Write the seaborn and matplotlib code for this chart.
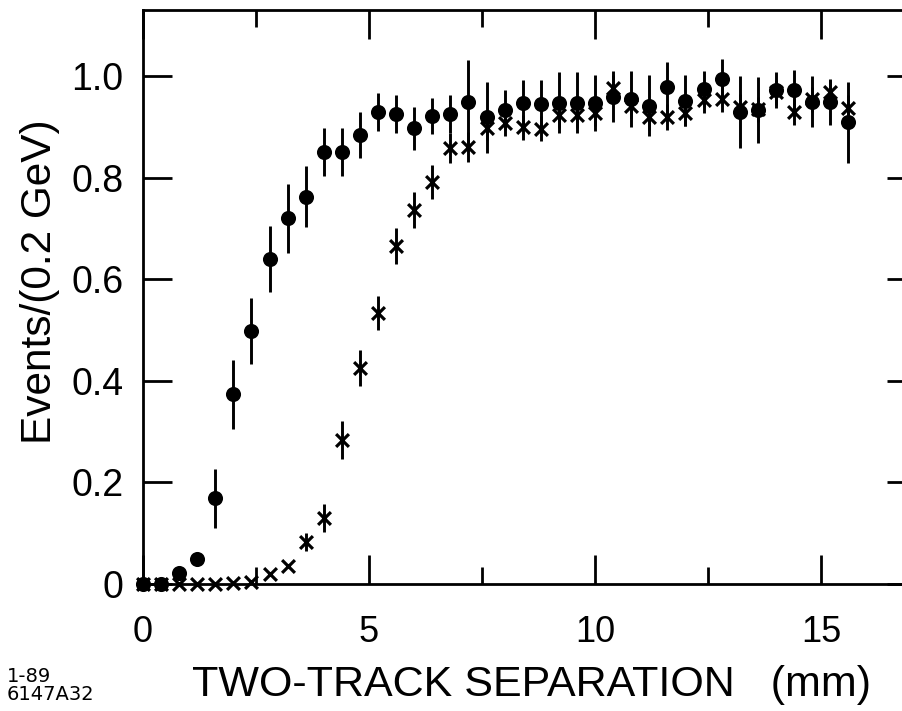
import matplotlib
matplotlib.use("Agg")
import matplotlib.pyplot as plt
import seaborn as sns
import pandas as pd
from matplotlib.ticker import FixedLocator

# ---- data ----
separation = [0.0, 0.4, 0.8, 1.2, 1.6, 2.0, 2.4, 2.8, 3.2, 3.6,
              4.0, 4.4, 4.8, 5.2, 5.6, 6.0, 6.4, 6.8, 7.2, 7.6,
              8.0, 8.4, 8.8, 9.2, 9.6, 10.0, 10.4, 10.8, 11.2, 11.6,
              12.0, 12.4, 12.8, 13.2, 13.6, 14.0, 14.4, 14.8, 15.2, 15.6]

dots = [0.0, 0.0, 0.022, 0.049, 0.169, 0.374, 0.498, 0.640, 0.721, 0.763,
        0.851, 0.851, 0.885, 0.930, 0.926, 0.898, 0.922, 0.926, 0.950, 0.920,
        0.934, 0.948, 0.946, 0.948, 0.948, 0.948, 0.960, 0.956, 0.942, 0.979,
        0.952, 0.975, 0.995, 0.930, 0.934, 0.973, 0.973, 0.950, 0.950, 0.910]

dots_err = [0.0, 0.0, 0.0, 0.008, 0.058, 0.068, 0.065, 0.065, 0.068, 0.060,
            0.048, 0.048, 0.045, 0.038, 0.038, 0.042, 0.036, 0.037, 0.082, 0.070,
            0.040, 0.045, 0.047, 0.060, 0.060, 0.055, 0.050, 0.055, 0.060, 0.050,
            0.050, 0.035, 0.040, 0.070, 0.065, 0.035, 0.040, 0.050, 0.045, 0.080]

crosses = [0.0, 0.0, 0.0, 0.0, 0.0, 0.002, 0.004, 0.020, 0.035, 0.083,
           0.130, 0.284, 0.426, 0.534, 0.666, 0.737, 0.792, 0.859, 0.861, 0.899,
           0.908, 0.900, 0.897, 0.924, 0.924, 0.928, 0.977, 0.942, 0.920, 0.920,
           0.928, 0.954, 0.956, 0.940, 0.935, 0.969, 0.930, 0.955, 0.969, 0.938]

crosses_err = [0.0, 0.0, 0.0, 0.0, 0.0, 0.0, 0.0, 0.0, 0.0, 0.018,
               0.028, 0.037, 0.035, 0.034, 0.035, 0.035, 0.033, 0.029, 0.029, 0.025,
               0.025, 0.025, 0.025, 0.025, 0.025, 0.025, 0.025, 0.025, 0.025, 0.025,
               0.025, 0.025, 0.025, 0.025, 0.025, 0.025, 0.025, 0.025, 0.025, 0.025]

x_ticks = [0, 5, 10, 15]
x_tick_labels = ["0", "5", "10", "15"]
y_ticks = [0.0, 0.2, 0.4, 0.6, 0.8, 1.0]
y_tick_labels = ["0", "0.2", "0.4", "0.6", "0.8", "1.0"]

x_label = "TWO-TRACK SEPARATION   (mm)"
y_label = "Events/(0.2 GeV)"
stamp_lines = ["1-89", "6147A32"]

df = pd.DataFrame({"sep": separation, "dots": dots, "dots_err": dots_err,
                   "crosses": crosses, "crosses_err": crosses_err})

# ---- style ----
sns.set_theme(style="ticks")
plt.rcParams["font.family"] = ["Liberation Sans", "DejaVu Sans"]
for key in ["text.color", "axes.labelcolor", "xtick.color", "ytick.color",
            "axes.edgecolor"]:
    plt.rcParams[key] = "black"

fig = plt.figure(figsize=(9.03, 7.11), dpi=100)
fig.patch.set_facecolor("white")
ax = fig.add_axes([143 / 903, 127 / 711, 773 / 903, 574 / 711])
ax.set_facecolor("white")

# error bars
ax.errorbar(df["sep"], df["dots"], yerr=df["dots_err"], fmt="none",
            ecolor="black", elinewidth=2.1, capsize=0, clip_on=False, zorder=2)
ax.errorbar(df["sep"], df["crosses"], yerr=df["crosses_err"], fmt="none",
            ecolor="black", elinewidth=2.1, capsize=0, clip_on=False, zorder=2)

# markers
sns.scatterplot(data=df, x="sep", y="dots", marker="o", s=118, color="black",
                edgecolor="black", linewidth=0, clip_on=False, zorder=3, ax=ax,
                legend=False)
sns.scatterplot(data=df, x="sep", y="crosses", marker="x", s=85, color="black",
                linewidth=2.3, clip_on=False, zorder=4, ax=ax, legend=False)

ax.set_xlim(0, 17.1)
ax.set_ylim(0, 1.131)

ax.xaxis.set_major_locator(FixedLocator(x_ticks))
ax.set_xticklabels(x_tick_labels)
ax.xaxis.set_minor_locator(FixedLocator([2.5, 7.5, 12.5]))
ax.yaxis.set_major_locator(FixedLocator(y_ticks))
ax.set_yticklabels(y_tick_labels)

for sp in ["left", "bottom", "top", "right"]:
    ax.spines[sp].set_visible(True)
    ax.spines[sp].set_linewidth(2.0)
    ax.spines[sp].set_color("black")

ax.tick_params(axis="both", which="major", direction="in", length=21, width=2,
               color="black", top=True, right=True)
ax.tick_params(axis="x", which="minor", direction="in", length=12, width=2,
               color="black", top=True, bottom=True)
ax.tick_params(axis="x", which="major", labelsize=26, pad=22)
ax.tick_params(axis="y", which="major", labelsize=27, pad=14)

ax.set_xlabel(x_label, fontsize=31)
ax.xaxis.set_label_coords(0.503, -0.141)
ax.set_ylabel(y_label, fontsize=30.5)
ax.yaxis.set_label_coords(-0.108, 0.526)

fig.text(7 / 903, 1 - 667 / 711, "\n".join(stamp_lines), fontsize=14,
         family="DejaVu Sans", ha="left", va="top", linespacing=0.95)

fig.savefig("out.png", dpi=100, facecolor="white")
